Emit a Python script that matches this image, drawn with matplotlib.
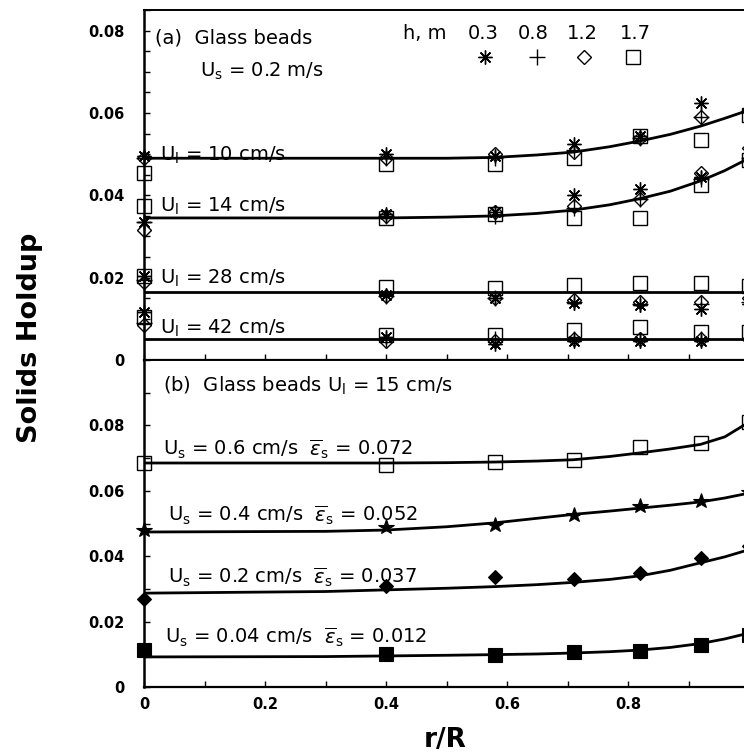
import matplotlib.pyplot as plt
from matplotlib.ticker import MultipleLocator

plt.rcParams['font.family'] = ['DejaVu Sans']
plt.rcParams['mathtext.fontset'] = 'dejavusans'

# radial measurement positions
r_pts = [0, 0.4, 0.58, 0.71, 0.82, 0.92, 1.0]

# (a) glass beads, Us = 0.2 m/s, four liquid velocities, four heights h (m)
heights = ['0.3', '0.8', '1.2', '1.7']
ul_labels = ['10', '14', '28', '42']
a_pts = {
    '10': [[0.0495, 0.050, 0.0495, 0.0525, 0.0545, 0.0625, 0.061],
           [0.049, 0.049, 0.049, 0.051, 0.054, 0.059, 0.0605],
           [0.049, 0.049, 0.050, 0.0505, 0.054, 0.059, 0.0605],
           [0.0455, 0.0475, 0.0475, 0.049, 0.0545, 0.0535, 0.0595]],
    '14': [[0.0335, 0.0355, 0.036, 0.040, 0.0415, 0.0445, 0.049],
           [0.0335, 0.035, 0.035, 0.037, 0.039, 0.044, 0.049],
           [0.0315, 0.035, 0.036, 0.0375, 0.039, 0.0455, 0.0515],
           [0.0375, 0.0345, 0.0355, 0.0345, 0.0345, 0.0425, 0.0485]],
    '28': [[0.0205, 0.0158, 0.015, 0.0138, 0.0133, 0.0125, 0.0135],
           [0.0195, 0.0155, 0.015, 0.014, 0.0135, 0.0135, 0.014],
           [0.019, 0.0155, 0.015, 0.0145, 0.014, 0.014, 0.015],
           [0.0205, 0.0178, 0.0175, 0.0183, 0.0187, 0.0187, 0.018]],
    '42': [[0.0117, 0.0055, 0.004, 0.0045, 0.0045, 0.0045, 0.005],
           [0.009, 0.005, 0.005, 0.005, 0.0048, 0.005, 0.005],
           [0.0085, 0.0045, 0.0045, 0.005, 0.005, 0.005, 0.005],
           [0.0105, 0.006, 0.006, 0.0073, 0.008, 0.0068, 0.0068]],
}
# fitted profiles for (a)
a_fit_r = {
    '10': [0, 0.4, 0.5, 0.58, 0.65, 0.71, 0.77, 0.82, 0.87, 0.92, 0.96, 1.0],
    '14': [0, 0.4, 0.5, 0.58, 0.65, 0.71, 0.77, 0.82, 0.87, 0.92, 0.96, 1.0],
    '28': [0, 1.0],
    '42': [0, 1.0],
}
a_fit_y = {
    '10': [0.049, 0.049, 0.049, 0.0492, 0.0498, 0.0505, 0.0518, 0.0532, 0.0548, 0.0568, 0.0587, 0.0607],
    '14': [0.0345, 0.0345, 0.0347, 0.035, 0.0356, 0.0364, 0.0377, 0.0392, 0.041, 0.0435, 0.046, 0.049],
    '28': [0.0166, 0.0166],
    '42': [0.0051, 0.0051],
}
a_text_y = {'10': 0.0498, '14': 0.0372, '28': 0.0199, '42': 0.0078}

# (b) glass beads, Ul = 15 cm/s, four solids velocities
us_labels = ['0.6', '0.4', '0.2', '0.04']
eps_mean = ['0.072', '0.052', '0.037', '0.012']
b_pts = {
    '0.6': [0.0685, 0.068, 0.0688, 0.0694, 0.0734, 0.0746, 0.081],
    '0.4': [0.048, 0.049, 0.0495, 0.0526, 0.0553, 0.057, 0.0595],
    '0.2': [0.027, 0.031, 0.0337, 0.033, 0.035, 0.0395, 0.043],
    '0.04': [0.0113, 0.010, 0.0098, 0.0107, 0.011, 0.0128, 0.016],
}
b_fit_r = [0, 0.3, 0.4, 0.5, 0.58, 0.65, 0.71, 0.77, 0.82, 0.87, 0.92, 0.96, 1.0]
b_fit_y = {
    '0.6': [0.0685, 0.0685, 0.0685, 0.0686, 0.0688, 0.0691, 0.0695, 0.0705, 0.0716, 0.0728, 0.0742, 0.0765, 0.081],
    '0.4': [0.0474, 0.0476, 0.048, 0.049, 0.0502, 0.0516, 0.0528, 0.0538, 0.0547, 0.0556, 0.0566, 0.0578, 0.0593],
    '0.2': [0.0287, 0.0292, 0.0297, 0.0302, 0.0307, 0.0313, 0.032, 0.0329, 0.034, 0.0357, 0.038, 0.0398, 0.042],
    '0.04': [0.0092, 0.0093, 0.0095, 0.0097, 0.0099, 0.0101, 0.0104, 0.0108, 0.0113, 0.0121, 0.0133, 0.0147, 0.0165],
}
b_text = {'0.6': (0.031, 0.0728), '0.4': (0.040, 0.0526),
          '0.2': (0.040, 0.0336), '0.04': (0.035, 0.0153)}

# marker styles per height in (a) and per Us in (b)
h_style = [dict(marker=(8, 2, 0), ms=10, mew=1.0, mfc='none'),
           dict(marker='+', ms=11, mew=1.0, mfc='none'),
           dict(marker='D', ms=7, mew=1.0, mfc='none'),
           dict(marker='s', ms=10.5, mew=1.0, mfc='none')]
b_style = {'0.6': dict(marker='s', ms=10.5, mew=1.0, mfc='none'),
           '0.4': dict(marker='*', ms=11.5, mew=0.8, mfc='k'),
           '0.2': dict(marker='D', ms=7.5, mew=0.8, mfc='k'),
           '0.04': dict(marker='s', ms=10.5, mew=0.8, mfc='k')}

W, H = 744, 755
fig = plt.figure(figsize=(W / 100, H / 100), dpi=100)
ax_a = fig.add_axes([144 / W, 395 / H, 605 / W, 350 / H])
ax_b = fig.add_axes([144 / W, 68 / H, 605 / W, 327 / H])

txt = dict(fontsize=14, va='center', ha='left')

# ---- panel (a)
for ul in ul_labels:
    ax_a.plot(a_fit_r[ul], a_fit_y[ul], color='k', lw=2.0, zorder=3)
    for vals, st in zip(a_pts[ul], h_style):
        ax_a.plot(r_pts, vals, ls='none', color='k', clip_on=False, zorder=4, **st)
    ax_a.text(0.026, a_text_y[ul], r'U$_\mathrm{l}$ = %s cm/s' % ul, **txt)

ax_a.text(0.018, 0.0782, '(a)  Glass beads', **txt)
ax_a.text(0.093, 0.0700, r'U$_\mathrm{s}$ = 0.2 m/s', **txt)
ax_a.text(0.428, 0.0794, 'h, m', **txt)
for lab, xt, xm, st in zip(heights, [0.56, 0.643, 0.724, 0.812],
                           [0.564, 0.650, 0.727, 0.808], h_style):
    ax_a.text(xt, 0.0794, lab, fontsize=14, va='center', ha='center')
    ax_a.plot([xm], [0.0736], color='k', ls='none', **st)

ax_a.set_xlim(0, 1.0)
ax_a.set_ylim(0, 0.085)
ax_a.set_yticks([0, 0.02, 0.04, 0.06, 0.08])
ax_a.set_yticklabels(['0', '0.02', '0.04', '0.06', '0.08'])
ax_a.yaxis.set_minor_locator(MultipleLocator(0.005))
ax_a.xaxis.set_major_locator(MultipleLocator(0.2))
ax_a.xaxis.set_minor_locator(MultipleLocator(0.1))
ax_a.tick_params(axis='x', labelbottom=False)

# ---- panel (b)
for us, eps in zip(us_labels, eps_mean):
    ax_b.plot(b_fit_r, b_fit_y[us], color='k', lw=2.0, zorder=3)
    ax_b.plot(r_pts, b_pts[us], ls='none', color='k', clip_on=False, zorder=4, **b_style[us])
    x0, y0 = b_text[us]
    ax_b.text(x0, y0, r'U$_\mathrm{s}$ = %s cm/s  $\overline{\varepsilon}_\mathrm{s}$ = %s' % (us, eps), **txt)

ax_b.text(0.031, 0.092, r'(b)  Glass beads U$_\mathrm{l}$ = 15 cm/s', **txt)

ax_b.set_xlim(0, 1.0)
ax_b.set_ylim(0, 0.1)
ax_b.set_yticks([0, 0.02, 0.04, 0.06, 0.08])
ax_b.set_yticklabels(['0', '0.02', '0.04', '0.06', '0.08'])
ax_b.yaxis.set_minor_locator(MultipleLocator(0.01))
ax_b.set_xticks([0, 0.2, 0.4, 0.6, 0.8])
ax_b.set_xticklabels(['0', '0.2', '0.4', '0.6', '0.8'])
ax_b.xaxis.set_minor_locator(MultipleLocator(0.1))

for ax in (ax_a, ax_b):
    ax.spines['right'].set_visible(False)
    ax.spines['left'].set_linewidth(1.8)
    ax.spines['bottom'].set_linewidth(1.6)
    ax.spines['top'].set_linewidth(1.4)
    ax.tick_params(which='both', direction='in', length=4, width=1.0)
    ax.tick_params(axis='y', pad=14, labelsize=10.5)
    ax.tick_params(axis='x', pad=7, labelsize=10.5)
    for lab in ax.get_xticklabels() + ax.get_yticklabels():
        lab.set_fontweight('bold')

fig.text(30 / W, 1 - 338 / H, 'Solids Holdup', rotation=90, fontsize=19.5,
         fontweight='bold', ha='center', va='center')
fig.text(445 / W, 1 - 740 / H, 'r/R', fontsize=19, fontweight='bold',
         ha='center', va='center')

fig.savefig('out.png', dpi=100)
